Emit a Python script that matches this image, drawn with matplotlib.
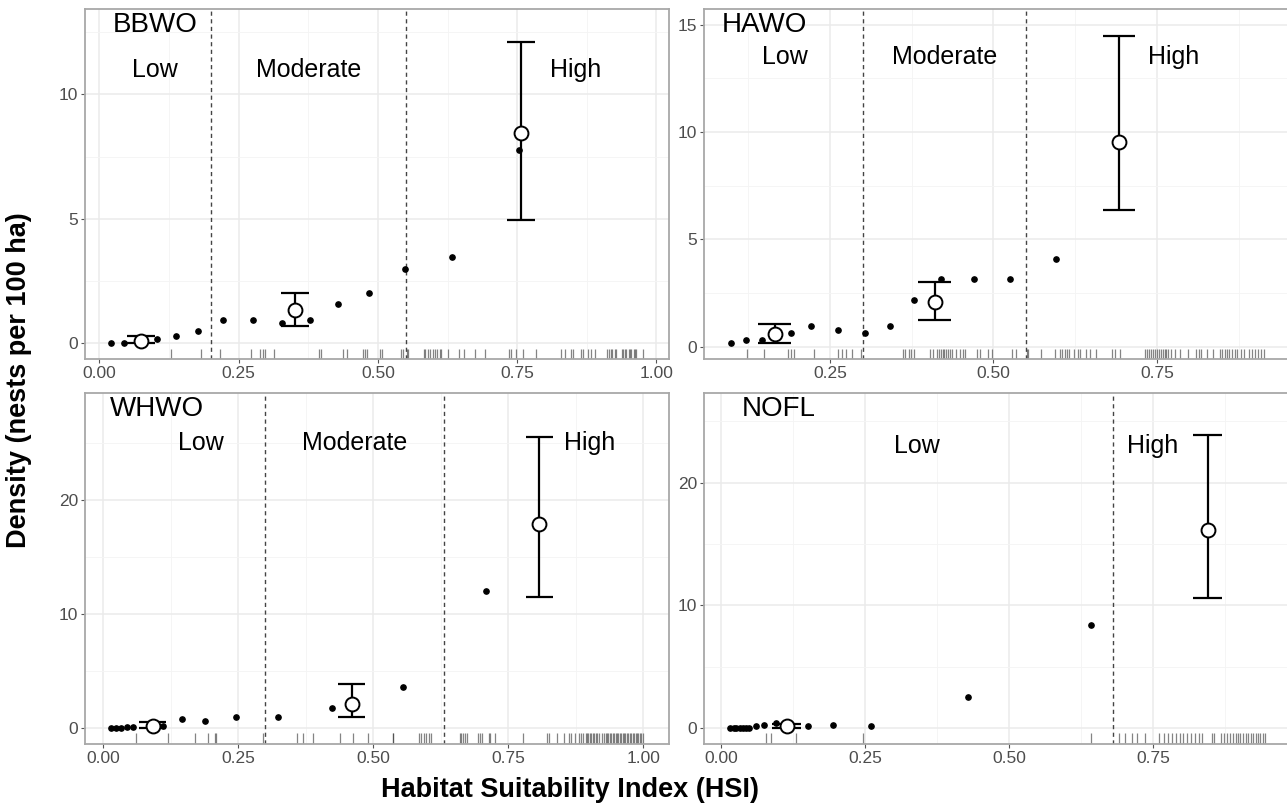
import matplotlib.pyplot as plt
from matplotlib.ticker import FixedLocator

plt.rcParams['font.family'] = ['Liberation Sans', 'DejaVu Sans']

# ---- BBWO ----
bbwo_x = [0.020, 0.045, 0.104, 0.138, 0.177, 0.222, 0.275, 0.327, 0.378,
          0.429, 0.484, 0.548, 0.633, 0.754]
bbwo_y = [0.0, 0.0, 0.16, 0.29, 0.47, 0.94, 0.94, 0.79, 0.94,
          1.57, 2.03, 2.99, 3.45, 7.76]
bbwo_mx = [0.075, 0.351, 0.757]
bbwo_mean = [0.10, 1.33, 8.45]
bbwo_lo = [0.0, 0.67, 4.96]
bbwo_hi = [0.30, 2.03, 12.10]
bbwo_cuts = [0.20, 0.55]
bbwo_rug = [0.129, 0.182, 0.217, 0.272, 0.289, 0.293, 0.298, 0.314, 0.394,
            0.397, 0.437, 0.445, 0.473, 0.477, 0.481, 0.503, 0.507, 0.541,
            0.545, 0.552, 0.554, 0.582, 0.585, 0.590, 0.593, 0.598, 0.603,
            0.606, 0.611, 0.613, 0.625, 0.645, 0.654, 0.674, 0.693, 0.735,
            0.739, 0.747, 0.760, 0.783, 0.829, 0.835, 0.847, 0.851, 0.864,
            0.868, 0.877, 0.882, 0.890, 0.911, 0.914, 0.918, 0.921, 0.925,
            0.927, 0.938, 0.940, 0.943, 0.946, 0.950, 0.952, 0.955, 0.959,
            0.962, 0.964, 0.975]

# ---- HAWO ----
hawo_x = [0.098, 0.122, 0.146, 0.190, 0.221, 0.262, 0.304, 0.341, 0.378,
          0.419, 0.470, 0.526, 0.595]
hawo_y = [0.16, 0.33, 0.33, 0.64, 0.95, 0.76, 0.64, 0.95, 2.19,
          3.15, 3.14, 3.15, 4.07]
hawo_mx = [0.165, 0.410, 0.692]
hawo_mean = [0.59, 2.07, 9.55]
hawo_lo = [0.19, 1.26, 6.38]
hawo_hi = [1.06, 3.03, 14.46]
hawo_cuts = [0.30, 0.55]
hawo_rug = [0.123, 0.149, 0.186, 0.190, 0.194, 0.225, 0.262, 0.268, 0.274,
            0.284, 0.298, 0.362, 0.365, 0.370, 0.374, 0.379, 0.403, 0.408,
            0.413, 0.416, 0.419, 0.422, 0.425, 0.427, 0.430, 0.433, 0.437,
            0.443, 0.448, 0.454, 0.457, 0.474, 0.480, 0.491, 0.497, 0.528,
            0.534, 0.551, 0.553, 0.572, 0.594, 0.602, 0.605, 0.609, 0.612,
            0.616, 0.623, 0.629, 0.632, 0.641, 0.647, 0.657, 0.681, 0.686,
            0.693, 0.732, 0.735, 0.738, 0.741, 0.744, 0.747, 0.750, 0.753,
            0.756, 0.759, 0.762, 0.764, 0.767, 0.772, 0.778, 0.786, 0.798,
            0.810, 0.814, 0.817, 0.827, 0.836, 0.847, 0.850, 0.854, 0.857,
            0.860, 0.865, 0.870, 0.873, 0.879, 0.884, 0.891, 0.896, 0.900,
            0.905, 0.910, 0.914]

# ---- WHWO ----
whwo_x = [0.015, 0.024, 0.033, 0.044, 0.055, 0.111, 0.146, 0.189, 0.245,
          0.323, 0.424, 0.555, 0.708]
whwo_y = [0.0, 0.0, 0.0, 0.12, 0.12, 0.20, 0.79, 0.64, 0.94,
          0.94, 1.73, 3.63, 12.0]
whwo_mx = [0.092, 0.460, 0.807]
whwo_mean = [0.20, 2.10, 17.90]
whwo_lo = [0.0, 0.94, 11.52]
whwo_hi = [0.56, 3.86, 25.55]
whwo_cuts = [0.30, 0.63]
whwo_rug = [0.060, 0.119, 0.169, 0.193, 0.206, 0.208, 0.296, 0.358, 0.369,
            0.389, 0.438, 0.462, 0.490, 0.536, 0.537, 0.584, 0.588, 0.594,
            0.598, 0.604, 0.607, 0.660, 0.663, 0.666, 0.670, 0.673, 0.694,
            0.698, 0.701, 0.715, 0.717, 0.726, 0.777, 0.822, 0.825, 0.840,
            0.853, 0.863, 0.867, 0.873, 0.880, 0.885, 0.889, 0.893, 0.896,
            0.898, 0.901, 0.904, 0.906, 0.909, 0.912, 0.914, 0.918, 0.924,
            0.927, 0.930, 0.933, 0.935, 0.938, 0.941, 0.943, 0.946, 0.949,
            0.951, 0.954, 0.957, 0.959, 0.962, 0.965, 0.967, 0.970, 0.972,
            0.975, 0.978, 0.980, 0.983, 0.986, 0.988, 0.991, 0.994, 0.996,
            0.999]

# ---- NOFL ----
nofl_x = [0.016, 0.022, 0.026, 0.032, 0.038, 0.043, 0.049, 0.061, 0.075,
          0.095, 0.150, 0.194, 0.261, 0.429, 0.642]
nofl_y = [0.0, 0.0, 0.0, 0.0, 0.0, 0.0, 0.0, 0.14, 0.24,
          0.41, 0.14, 0.27, 0.14, 2.55, 8.39]
nofl_mx = [0.114, 0.845]
nofl_mean = [0.14, 16.10]
nofl_lo = [0.0, 10.60]
nofl_hi = [0.35, 23.90]
nofl_cuts = [0.68]
nofl_rug = [0.077, 0.086, 0.130, 0.247, 0.642, 0.691, 0.702, 0.713, 0.723,
            0.736, 0.760, 0.769, 0.776, 0.783, 0.790, 0.797, 0.803, 0.810,
            0.817, 0.824, 0.830, 0.836, 0.852, 0.857, 0.868, 0.873, 0.878,
            0.884, 0.889, 0.894, 0.898, 0.902, 0.907, 0.911, 0.916, 0.921,
            0.924, 0.929, 0.932, 0.937, 0.941, 0.945]

three_classes = ["Low", "Moderate", "High"]
two_classes = ["Low", "High"]

panels = [
    dict(name="BBWO", x=bbwo_x, y=bbwo_y, mx=bbwo_mx, mean=bbwo_mean,
         lo=bbwo_lo, hi=bbwo_hi, cuts=bbwo_cuts, rug=bbwo_rug,
         classes=three_classes, lab_x=[0.10, 0.375, 0.855], lab_y=11.0,
         name_xy=(0.10, 12.8), xlim=(-0.026, 1.023), ylim=(-0.64, 13.44),
         xt=[0, 0.25, 0.5, 0.75, 1.0], yt=[0, 5, 10],
         pos=[0.066, 0.554, 0.454, 0.435]),
    dict(name="HAWO", x=hawo_x, y=hawo_y, mx=hawo_mx, mean=hawo_mean,
         lo=hawo_lo, hi=hawo_hi, cuts=hawo_cuts, rug=hawo_rug,
         classes=three_classes, lab_x=[0.181, 0.425, 0.775], lab_y=13.5,
         name_xy=(0.15, 15.0), xlim=(0.057, 0.957), ylim=(-0.58, 15.74),
         xt=[0.25, 0.5, 0.75], yt=[0, 5, 10, 15],
         pos=[0.547, 0.554, 0.457, 0.435]),
    dict(name="WHWO", x=whwo_x, y=whwo_y, mx=whwo_mx, mean=whwo_mean,
         lo=whwo_lo, hi=whwo_hi, cuts=whwo_cuts, rug=whwo_rug,
         classes=three_classes, lab_x=[0.181, 0.466, 0.901], lab_y=25.0,
         name_xy=(0.10, 28.0), xlim=(-0.034, 1.048), ylim=(-1.4, 29.4),
         xt=[0, 0.25, 0.5, 0.75, 1.0], yt=[0, 10, 20],
         pos=[0.066, 0.0758, 0.454, 0.436]),
    dict(name="NOFL", x=nofl_x, y=nofl_y, mx=nofl_mx, mean=nofl_mean,
         lo=nofl_lo, hi=nofl_hi, cuts=nofl_cuts, rug=nofl_rug,
         classes=two_classes, lab_x=[0.34, 0.75], lab_y=23.0,
         name_xy=(0.10, 26.0), xlim=(-0.030, 0.992), ylim=(-1.3, 27.3),
         xt=[0, 0.25, 0.5, 0.75], yt=[0, 10, 20],
         pos=[0.547, 0.0758, 0.457, 0.436]),
]

CAP = 0.025

fig = plt.figure(figsize=(12.87, 8.05), dpi=100)

for p in panels:
    ax = fig.add_axes(p["pos"])
    ax.set_xlim(*p["xlim"])
    ax.set_ylim(*p["ylim"])

    # grid in ggplot theme_bw style
    xt, yt = p["xt"], p["yt"]
    dx = xt[1] - xt[0]
    dy = yt[1] - yt[0]
    xminor = [xt[0] - dx / 2] + [v + dx / 2 for v in xt]
    yminor = [yt[0] - dy / 2] + [v + dy / 2 for v in yt]
    ax.xaxis.set_major_locator(FixedLocator(xt))
    ax.yaxis.set_major_locator(FixedLocator(yt))
    ax.xaxis.set_minor_locator(FixedLocator(xminor))
    ax.yaxis.set_minor_locator(FixedLocator(yminor))
    ax.grid(which="major", color="#EBEBEB", lw=1.1)
    ax.grid(which="minor", color="#F4F4F4", lw=0.6)
    ax.set_axisbelow(True)
    ax.set_xticklabels([f"{v:.2f}" for v in xt])
    ax.set_yticklabels([str(v) for v in yt])
    ax.tick_params(which="major", direction="out", length=3, width=0.8,
                   color="#555555", labelcolor="#4D4D4D", labelsize=12.5,
                   pad=2)
    ax.tick_params(which="minor", length=0)
    for s in ax.spines.values():
        s.set_color("#A8A8A8")
        s.set_linewidth(1.3)

    # rug
    ax.vlines(p["rug"], 0, 0.03, transform=ax.get_xaxis_transform(),
              colors="#333333", alpha=0.6, lw=0.9)

    # class thresholds
    for c in p["cuts"]:
        ax.axvline(c, color="#444444", lw=1, ls=(0, (3, 2.5)))

    # binned densities
    ax.plot(p["x"], p["y"], "o", color="black", ms=3.8, zorder=3)

    # class means with confidence intervals
    ax.vlines(p["mx"], p["lo"], p["hi"], colors="black", lw=1.6, zorder=4)
    left = [m - CAP for m in p["mx"]]
    right = [m + CAP for m in p["mx"]]
    ax.hlines(p["lo"], left, right, colors="black", lw=1.6, zorder=4)
    ax.hlines(p["hi"], left, right, colors="black", lw=1.6, zorder=4)
    ax.plot(p["mx"], p["mean"], "o", ms=10, mfc="white", mec="black",
            mew=1.4, zorder=5)

    # annotations
    ax.text(p["name_xy"][0], p["name_xy"][1], p["name"], fontsize=20,
            ha="center", va="center")
    for lx, lab in zip(p["lab_x"], p["classes"]):
        ax.text(lx, p["lab_y"], lab, fontsize=18, ha="center", va="center")

fig.text(0.015, 0.528, "Density (nests per 100 ha)", rotation=90,
         fontsize=19.5, fontweight="bold", ha="center", va="center")
fig.text(0.443, 0.019, "Habitat Suitability Index (HSI)", fontsize=19.5,
         fontweight="bold", ha="center", va="center")

fig.savefig("out.png", dpi=100)
